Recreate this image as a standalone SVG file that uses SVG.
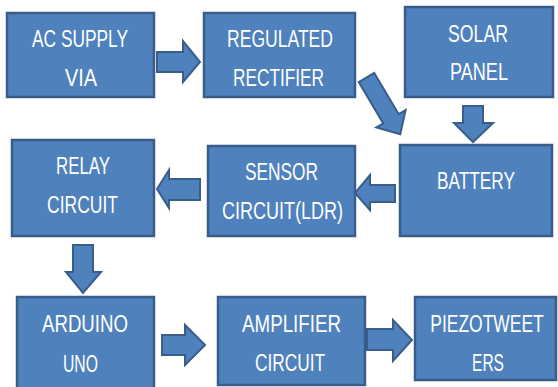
<svg xmlns="http://www.w3.org/2000/svg" width="558" height="387" viewBox="0 0 558 387">
<style>
.box{fill:#4F81BD;stroke:#385D8A;stroke-width:2.5}
.arr{fill:#4F81BD;stroke:#385D8A;stroke-width:2;stroke-linejoin:miter}
text{fill:#FFFFFF;font-family:"Liberation Sans",Arial,sans-serif;font-size:23px;text-anchor:middle}
</style>
<rect width="558" height="387" fill="#FFFFFF"/>
<g id="ac-supply"><rect class="box" x="7" y="13" width="147" height="84"/><text x="80" y="47" textLength="96" lengthAdjust="spacingAndGlyphs">AC SUPPLY</text><text x="81" y="86" textLength="32" lengthAdjust="spacingAndGlyphs">VIA</text></g>
<g id="rectifier"><rect class="box" x="204" y="13" width="151" height="84"/><text x="280" y="47" textLength="106" lengthAdjust="spacingAndGlyphs">REGULATED</text><text x="278.5" y="86" textLength="91" lengthAdjust="spacingAndGlyphs">RECTIFIER</text></g>
<g id="solar"><rect class="box" x="405" y="7" width="148" height="90"/><text x="478" y="42" textLength="60" lengthAdjust="spacingAndGlyphs">SOLAR</text><text x="479" y="80" textLength="58" lengthAdjust="spacingAndGlyphs">PANEL</text></g>
<g id="relay"><rect class="box" x="12" y="140" width="142" height="96"/><text x="83" y="174" textLength="54" lengthAdjust="spacingAndGlyphs">RELAY</text><text x="82.5" y="213" textLength="71" lengthAdjust="spacingAndGlyphs">CIRCUIT</text></g>
<g id="sensor"><rect class="box" x="208" y="146" width="147" height="90"/><text x="281.5" y="180" textLength="73" lengthAdjust="spacingAndGlyphs">SENSOR</text><text x="282.5" y="219" textLength="121" lengthAdjust="spacingAndGlyphs">CIRCUIT(LDR)</text></g>
<g id="battery"><rect class="box" x="400" y="145" width="152" height="91"/><text x="476" y="189" textLength="78" lengthAdjust="spacingAndGlyphs">BATTERY</text></g>
<g id="arduino"><rect class="box" x="17" y="297" width="137" height="96"/><text x="85" y="332" textLength="86" lengthAdjust="spacingAndGlyphs">ARDUINO</text><text x="80.5" y="372" textLength="35" lengthAdjust="spacingAndGlyphs">UNO</text></g>
<g id="amplifier"><rect class="box" x="218" y="297" width="147" height="88"/><text x="291.5" y="332" textLength="99" lengthAdjust="spacingAndGlyphs">AMPLIFIER</text><text x="290" y="371" textLength="70" lengthAdjust="spacingAndGlyphs">CIRCUIT</text></g>
<g id="piezo"><rect class="box" x="415" y="297" width="141" height="83"/><text transform="translate(487,332) scale(0.76,1)" x="0" y="0">PIEZOTWEET</text><text x="488" y="371" textLength="32" lengthAdjust="spacingAndGlyphs">ERS</text></g>
<g id="connectors">
<polygon class="arr" points="157,52 183,52 183,41 200,62 183,82 183,72 157,72"/>
<polygon class="arr" transform="translate(366.5,77.5) rotate(59.3)" points="0,-9 48,-9 48,-17 66,0 48,17 48,9 0,9"/>
<polygon class="arr" points="463,106 483,106 483,123 493,123 473,142 454,123 463,123"/>
<polygon class="arr" points="395,185 395,202 370,202 370,210 355,193 370,175 370,185"/>
<polygon class="arr" points="200,179 200,200 169,200 169,208 157,189 169,170 169,179"/>
<polygon class="arr" points="73,245 93,245 93,272 101,272 83,293 66,272 73,272"/>
<polygon class="arr" points="162,335 185,335 185,325 205,345 185,365 185,355 162,355"/>
<polygon class="arr" points="367,329 393,329 393,320 412,340 393,361 393,350 367,350"/>
</g>
</svg>
